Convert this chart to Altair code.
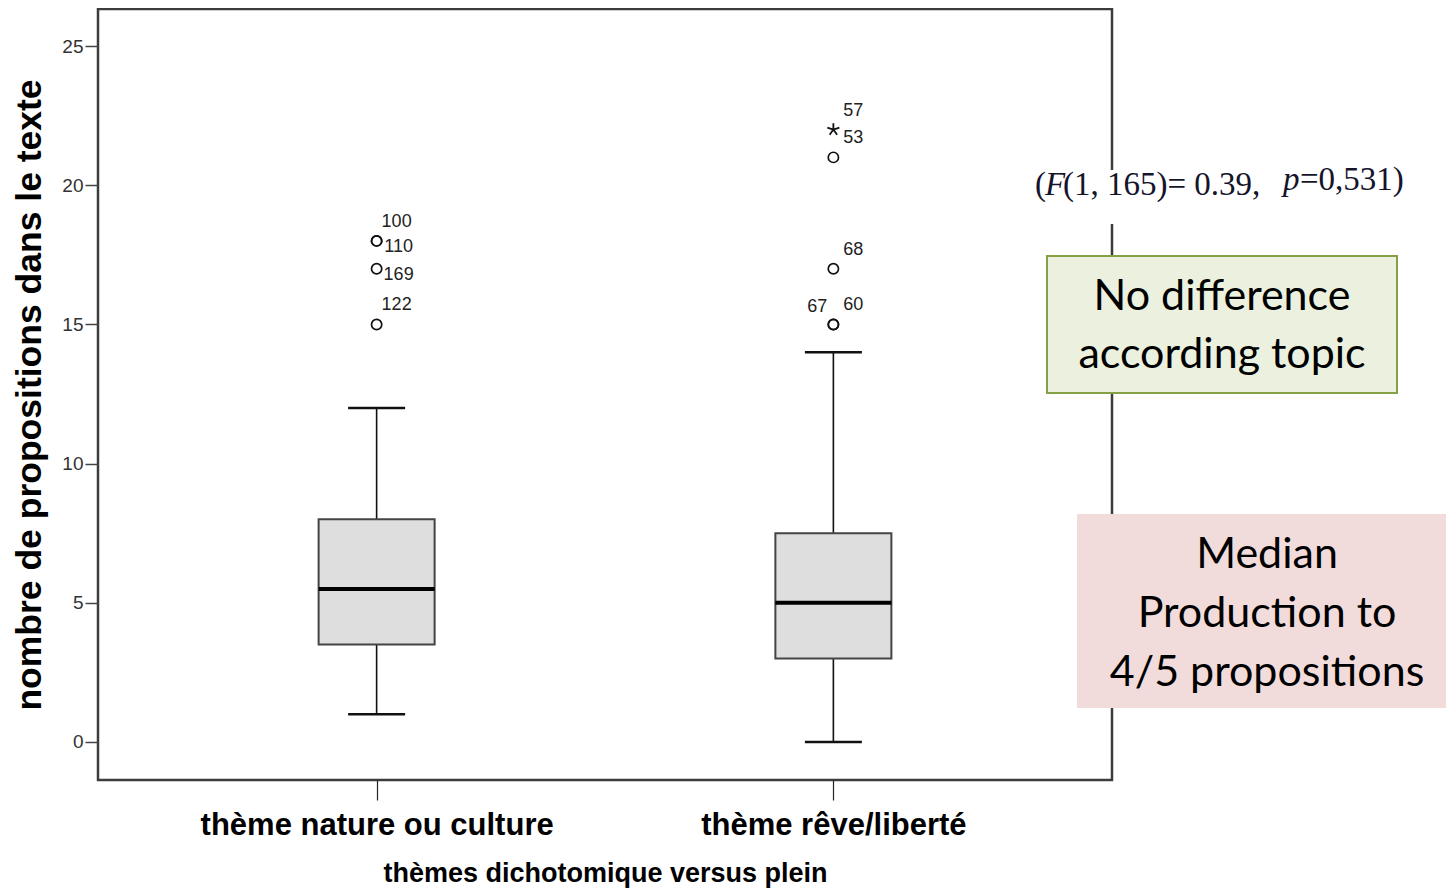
import altair as alt
import pandas as pd

# ---------------- data ----------------
themes = ["thème nature ou culture", "thème rêve/liberté"]
whisker_low = [1, 0]
q1 = [3.5, 3]
median = [5.5, 5]
q3 = [8, 7.5]
whisker_high = [12, 14]

out_theme = [themes[0]] * 4 + [themes[1]] * 5
out_value = [18, 18, 17, 15, 22, 21, 17, 15, 15]
out_case = ["100", "110", "169", "122", "57", "53", "68", "60", "67"]
out_kind = ["circle", "circle", "circle", "circle", "star", "circle", "circle", "circle", "circle"]
out_place = ["above-right", "right", "right", "above-right",
             "above-right", "above-right", "above-right", "above-right", "above-left"]

y_ticks = [0, 5, 10, 15, 20, 25]
y_title = "nombre de propositions dans le texte"
x_title = "thèmes dichotomique versus plein"
stat_parts = ["(", "F", "(1, 165)= 0.39,", "p", "=0,531)"]
green_lines = ["No difference", "according topic"]
pink_lines = ["Median", "Production to", "4/5 propositions"]

box_df = pd.DataFrame({"theme": themes, "low": whisker_low, "q1": q1,
                       "median": median, "q3": q3, "high": whisker_high})
out_df = pd.DataFrame({"theme": out_theme, "value": out_value, "case": out_case,
                       "kind": out_kind, "place": out_place})

W, H = 1014, 771
FONT = "Liberation Sans"

x_axis = alt.Axis(title=x_title, titleFont=FONT, titleFontSize=27, titleFontWeight="bold",
                  titleColor="black", titlePadding=20, labelAngle=0, labelFont=FONT,
                  labelFontSize=31, labelFontWeight="bold", labelColor="black", labelPadding=10,
                  labelLimit=0, tickSize=20, tickColor="#222", tickWidth=1.2,
                  domain=False, grid=False)
y_axis = alt.Axis(values=y_ticks, title=y_title, titleFont=FONT, titleFontSize=35.5,
                  titleFontWeight="bold", titleColor="black", titleX=-51, titleY=H / 2,
                  titleAngle=-90, titleAlign="center", titleBaseline="bottom",
                  domain=False, grid=False, tickSize=13, tickColor="#444", tickWidth=1.5,
                  labelFont=FONT, labelFontSize=19, labelColor="#333", labelPadding=2)

xscale = alt.Scale(type="point", padding=0.61)
yscale = alt.Scale(domain=[-1.365, 26.33], nice=False, zero=False)


def X():
    return alt.X("theme:N", sort=themes, scale=xscale, axis=x_axis)


def Y(field):
    return alt.Y(f"{field}:Q", scale=yscale, axis=y_axis)


base = alt.Chart(box_df)
whisker = base.mark_rule(color="#111", strokeWidth=1.6).encode(x=X(), y=Y("low"), y2="high:Q")
box = base.mark_bar(size=116, fill="#dedede", stroke="#444", strokeWidth=2, opacity=1).encode(
    x=X(), y=Y("q1"), y2="q3:Q")
cap_low = base.mark_tick(size=57, thickness=2.5, color="#111", opacity=1).encode(x=X(), y=Y("low"))
cap_high = base.mark_tick(size=57, thickness=2.5, color="#111", opacity=1).encode(x=X(), y=Y("high"))
med = base.mark_tick(size=116, thickness=4, color="black", opacity=1).encode(x=X(), y=Y("median"))

ob = alt.Chart(out_df)
circles = ob.transform_filter(alt.datum.kind == "circle").mark_point(
    shape="circle", filled=False, size=105, strokeWidth=1.7, color="#111", opacity=1
).encode(x=X(), y=Y("value"))
star_path = "M0,0L0,-1M0,0L0.95,-0.31M0,0L0.59,0.81M0,0L-0.59,0.81M0,0L-0.95,-0.31"
stars = ob.transform_filter(alt.datum.kind == "star").mark_point(
    shape=star_path, filled=False, size=160, strokeWidth=1.8, color="#111", opacity=1
).encode(x=X(), y=Y("value"))

offsets = {"above-right": (20, -19), "right": (22, 6), "above-left": (-16, -17)}
label_layers = []
for place, (dx, dy) in offsets.items():
    label_layers.append(
        ob.transform_filter(alt.datum.place == place).mark_text(
            font=FONT, fontSize=18, color="#222", dx=dx, dy=dy, align="center", baseline="middle"
        ).encode(x=X(), y=Y("value"), text="case:N")
    )

one = pd.DataFrame({"a": [0]})

stat_bg = alt.Chart(one).mark_rect(fill="white").encode(
    x=alt.value(932), x2=alt.value(1322), y=alt.value(161), y2=alt.value(215))
stat_x = [937, 947, 965, 1185, 1202]
stat_y = [186, 186, 186, 181, 181]
stat_style = ["normal", "italic", "normal", "italic", "normal"]
stat_layers = []
for txt, sx, sy, st in zip(stat_parts, stat_x, stat_y, stat_style):
    stat_layers.append(
        alt.Chart(one).mark_text(font="Liberation Serif", fontSize=33, fontStyle=st,
                                 color="#14142a", align="left", baseline="alphabetic").encode(
            x=alt.value(sx), y=alt.value(sy), text=alt.value(txt))
    )

green_box = alt.Chart(one).mark_rect(fill="#ebf1de", stroke="#86a046", strokeWidth=2).encode(
    x=alt.value(949), x2=alt.value(1299), y=alt.value(247), y2=alt.value(384))
green_text = alt.Chart(one).mark_text(font="Lato", fontSize=43, color="black", align="center",
                                      baseline="alphabetic", lineHeight=58).encode(
    x=alt.value(1124), y=alt.value(301), text=alt.value(green_lines))

pink_box = alt.Chart(one).mark_rect(fill="#f2dcdb").encode(
    x=alt.value(979), x2=alt.value(1348), y=alt.value(505), y2=alt.value(699))
pink_text = alt.Chart(one).mark_text(font="Lato", fontSize=43, color="black", align="center",
                                     baseline="alphabetic", lineHeight=59).encode(
    x=alt.value(1169), y=alt.value(559), text=alt.value(pink_lines))

chart = alt.layer(
    whisker, box, cap_low, cap_high, med, circles, stars, *label_layers,
    stat_bg, *stat_layers, green_box, green_text, pink_box, pink_text
).properties(
    width=W, height=H,
    autosize=alt.AutoSizeParams(type="none"),
    padding={"left": 90, "top": 1, "right": 334, "bottom": 111},
    background="white",
).configure_view(stroke="#3c3c3c", strokeWidth=2.5)

chart.save("out.html", embed_options={"renderer": "svg", "actions": False})
